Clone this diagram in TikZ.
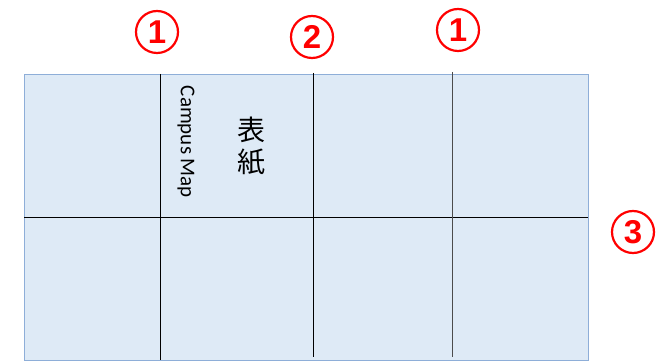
\documentclass[tikz,border=0pt]{standalone}
\usepackage{fontspec}
\setmainfont{Carlito}
\newfontfamily\cjk{Noto Sans CJK JP}
\newfontfamily\numfont{Liberation Sans}
\definecolor{panelfill}{HTML}{DEEAF6}
\definecolor{panelborder}{HTML}{8EAED8}
\definecolor{markred}{HTML}{FF0000}
\begin{document}
\begin{tikzpicture}[x=1pt,y=-1pt,
  foldline/.style={draw=black,line width=0.9pt},
  marker/.style={circle,draw=markred,line width=2.2pt,minimum size=42pt,inner sep=0pt,
    text=markred,font=\numfont\bfseries\fontsize{33}{33}\selectfont}]
\useasboundingbox (0,0) rectangle (662,363);
\node[draw=panelborder,fill=panelfill,line width=1pt,minimum width=564pt,minimum height=286pt,inner sep=0pt,anchor=north west] (sheet) at (24,74) {};
\coordinate (h1) at (24,217);
\coordinate (h2) at (588,217);
\draw[foldline] (h1) -- (h2);
\coordinate (v1t) at (160,74);
\coordinate (v1b) at (160,360);
\coordinate (v2t) at (313,73);
\coordinate (v2b) at (313,357);
\coordinate (v3t) at (452,72);
\coordinate (v3b) at (452,357);
\draw[foldline] (v1t) -- (v1b);
\draw[foldline] (v2t) -- (v2b);
\draw[foldline,draw=black!70,line width=1pt] (v3t) -- (v3b);
\node[marker] (m1) at (157,32) {1};
\node[marker] (m2) at (312,37) {2};
\node[marker] (m3) at (458,30) {1};
\node[marker] (m4) at (633,232) {3};
\node[rotate=-90,font=\fontsize{21}{21}\selectfont,inner sep=0pt] (campus) at (186,142) {Campus Map};
\node[font=\cjk\fontsize{28}{32}\selectfont,align=center,inner sep=0pt] (cover) at (251,146) {表\\紙};
\end{tikzpicture}
\end{document}
